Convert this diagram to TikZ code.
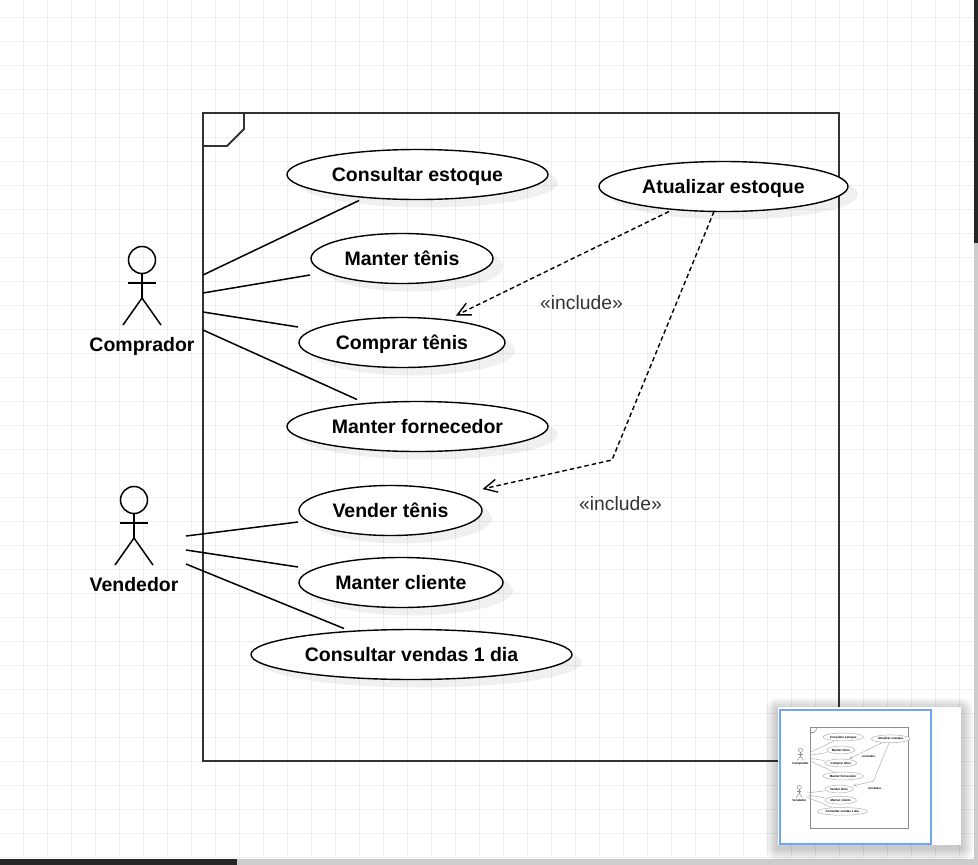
\documentclass[tikz,border=0pt]{standalone}
\usepackage{fontspec}
\setmainfont{Liberation Sans}
\usetikzlibrary{shapes.geometric,shadows,arrows.meta}
\definecolor{gridgray}{HTML}{EFEFEF}
\definecolor{framegray}{HTML}{333333}
\definecolor{navblue}{HTML}{6FA5F5}
\tikzset{
	usecase/.style={ellipse,draw=black,fill=white,line width=1.4pt,inner sep=0pt,outer sep=0pt,minimum height=50pt,
		font=\fontsize{19.5}{24}\selectfont\bfseries,text height=14.5pt,text depth=0pt,
		drop shadow={shadow xshift=10pt,shadow yshift=-8pt,fill=black,opacity=.06}},
	actorname/.style={font=\fontsize{19.5}{24}\selectfont\bfseries,text height=14.5pt,text depth=0pt},
	inclabel/.style={font=\fontsize{19.3}{24}\selectfont,color=framegray},
	actorline/.style={draw=black,line width=1.5pt},
	assoc/.style={draw=black,line width=1.5pt},
	incl/.style={draw=black,line width=1.4pt,dash pattern=on 4.5pt off 3pt,->,>={Straight Barb[length=13pt,width=13pt]}},
	framebox/.style={draw=framegray,line width=1.8pt}
}
\newcommand{\usecasenode}[5]
{\node[usecase,minimum width=#4pt] (#1) at (#2,#3) {#5};
}
\newcommand{\actorfig}[4]
{\draw[actorline] (#1,#2) circle (13.5);
\draw[actorline] (#1,#2+13.5) -- (#1,#2+38) (#1-14,#2+23) -- (#1+14,#2+23);
\draw[actorline] (#1-19,#2+65) -- (#1,#2+38) -- (#1+19,#2+65);
\node[actorname] (#3) at (#1,#2+84) {#4};
}
\newcommand{\usecasebody}
{
	% frame and its corner tag
	\draw[framebox] (203,113) rectangle (839,761);
	\draw[framebox] (203,146) -- (227,146) -- (244,129) -- (244,113);
	\actorfig{142}{260}{comprador}{Comprador}
	\actorfig{134}{500}{vendedor}{Vendedor}
	\usecasenode{consultar}{417.5}{174.5}{261}{Consultar estoque}
	\usecasenode{mantertenis}{402}{258.5}{182}{Manter tênis}
	\usecasenode{comprar}{402}{342.5}{206}{Comprar tênis}
	\usecasenode{fornecedor}{417.5}{426.5}{261}{Manter fornecedor}
	\usecasenode{vender}{390.5}{510.5}{183}{Vender tênis}
	\usecasenode{cliente}{401}{582.5}{204}{Manter cliente}
	\usecasenode{vendas}{411.5}{654.5}{321}{Consultar vendas 1 dia}
	\usecasenode{atualizar}{723.5}{186.5}{249}{Atualizar estoque}
	\coordinate (c1) at (203,275);
	\coordinate (c2) at (203,293);
	\coordinate (c3) at (203,312);
	\coordinate (c4) at (203,330);
	\coordinate (v1) at (186,536);
	\coordinate (v2) at (186,550);
	\coordinate (v3) at (186,564);
	\coordinate (bend) at (612,460);
	\draw[assoc] (c1) -- ([shift={(-58.5,1)}]consultar.south);
	\draw[assoc] (c2) -- ([shift={(-1,16.5)}]mantertenis.west);
	\draw[assoc] (c3) -- ([shift={(-1,-15.5)}]comprar.west);
	\draw[assoc] (c4) -- ([shift={(-60.5,-2)}]fornecedor.north);
	\draw[assoc] (v1) -- ([shift={(-1,11.5)}]vender.west);
	\draw[assoc] (v2) -- ([shift={(-1,-15.5)}]cliente.west);
	\draw[assoc] (v3) -- ([shift={(-67.5,-1)}]vendas.north);
	\draw[incl] ([shift={(-54.5,0)}]atualizar.south) -- ([shift={(54,-2)}]comprar.north);
	\draw[incl] ([shift={(-9.5,0)}]atualizar.south) -- (bend) -- ([shift={(0.5,-21.5)}]vender.east);
	\node[inclabel] (inctop) at (581.5,302.5) {«include»};
	\node[inclabel] (incbottom) at (620.5,503.5) {«include»};
}
\begin{document}
\begin{tikzpicture}[x=1pt,y=-1pt]
\useasboundingbox (0,0) rectangle (978,865);
\fill[white] (0,0) rectangle (978,865);

% grid
\foreach \x in {23,47,...,959}
	{\draw[gridgray,line width=1pt] (\x.5,0)--(\x.5,865);
	};
\foreach \y in {17,41,...,857}
	{\draw[gridgray,line width=1pt] (0,\y.5)--(978,\y.5);
	};

\usecasebody

% scrollbars
\fill[black!20] (974,0) rectangle (978,865);
\fill[black!85] (974,0) rectangle (978,243);
\fill[black!20] (0,859) rectangle (978,865);
\fill[black!85] (0,859) rectangle (237,865);

% outline panel
\foreach \d in {12,10,...,2}
	{\fill[black,opacity=.035,rounded corners=\d pt] (778-\d,707-\d+3) rectangle (961+\d,845+\d+3);
	};
\fill[white] (778,707) rectangle (961,845);
\draw[navblue,line width=2pt] (780,710) rectangle (931,844);
\begin{scope}[shift={(778.5,709.9)},scale=.155,transform shape,name prefix=thumb-,
	framebox/.style={draw=black!45,line width=.6pt},
	assoc/.style={draw=black!30,line width=.5pt},
	actorline/.style={draw=black!45,line width=.5pt},
	incl/.style={draw=black!30,line width=.5pt,->,>={Straight Barb[length=3pt,width=3pt]}},
	inclabel/.style={font=\fontsize{19.3}{24}\selectfont\bfseries,color=black},
	usecase/.style={ellipse,draw=black!30,fill=white,line width=.5pt,inner sep=0pt,outer sep=0pt,minimum height=50pt,
		font=\fontsize{19.5}{24}\selectfont\bfseries,text height=14.5pt,text depth=0pt}]
	\usecasebody
\end{scope}

\end{tikzpicture}
\end{document}
